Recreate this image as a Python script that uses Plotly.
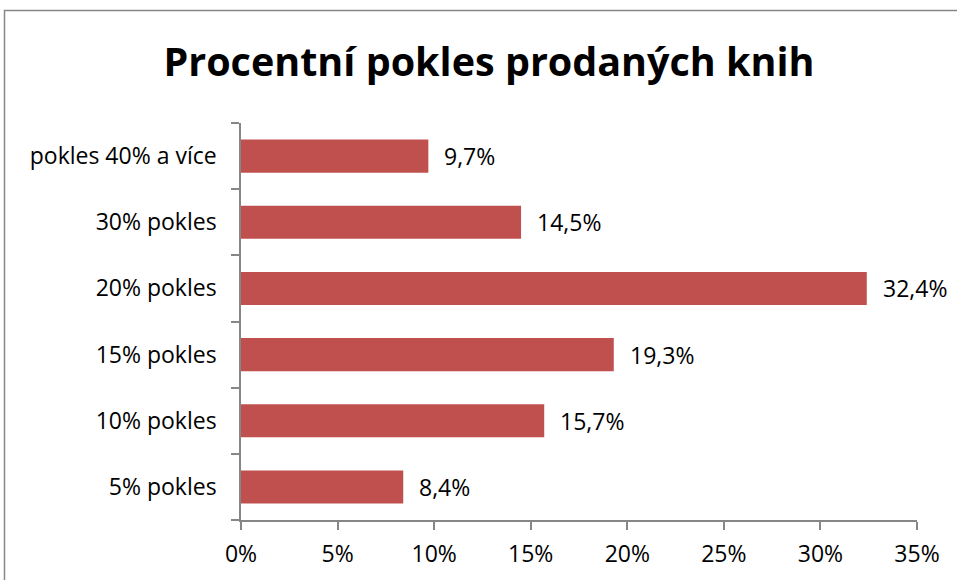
import plotly.graph_objects as go

categories = ["5% pokles", "10% pokles", "15% pokles", "20% pokles", "30% pokles", "pokles 40% a více"]
values = [8.4, 15.7, 19.3, 32.4, 14.5, 9.7]
x_ticks = [0, 5, 10, 15, 20, 25, 30, 35]
x_tick_labels = [f"{t}%" for t in x_ticks]

FONT = "'Open Sans', Lato, sans-serif"
AXIS_COLOR = "#868686"
BAR_COLOR = "#C0504D"
LABEL_SIZE = 23

W, H = 957, 580
ml, mr, mt, mb = 241, 40, 123, 60
pw, ph = W - ml - mr, H - mt - mb

fig = go.Figure()
fig.add_trace(go.Bar(
    y=categories, x=values, orientation="h",
    marker=dict(color=BAR_COLOR, line=dict(width=0)),
    hoverinfo="skip",
))

for c, v in zip(categories, values):
    fig.add_annotation(
        x=v, y=c, xref="x", yref="y",
        text=f"{v:.1f}%".replace(".", ","),
        showarrow=False, xanchor="left", yanchor="middle",
        xshift=14, font=dict(family=FONT, size=LABEL_SIZE, color="#000000"),
    )

def px_to_paper_x(px):
    return (px - ml) / pw

def px_to_paper_y(py):
    return (H - mb - py) / ph

fig.add_shape(
    type="rect", xref="paper", yref="paper",
    x0=px_to_paper_x(4.5), x1=px_to_paper_x(970),
    y0=px_to_paper_y(600), y1=px_to_paper_y(10.5),
    line=dict(color="#878787", width=1.5), fillcolor="rgba(0,0,0,0)",
    layer="below",
)

fig.update_layout(
    width=W, height=H,
    margin=dict(l=ml, r=mr, t=mt, b=mb),
    paper_bgcolor="white", plot_bgcolor="white",
    bargap=0.5,
    showlegend=False,
    separators=", ",
    title=dict(
        text="<b>Procentní pokles prodaných knih</b>",
        x=489 / W, xanchor="center", xref="container",
        y=1 - 62 / H, yanchor="middle", yref="container",
        font=dict(family=FONT, size=39.5, color="#000000"),
    ),
    font=dict(family=FONT, size=LABEL_SIZE, color="#000000"),
    xaxis=dict(
        range=[0, 35], tickvals=x_ticks, ticktext=x_tick_labels,
        showgrid=False, zeroline=False,
        showline=True, linecolor=AXIS_COLOR, linewidth=1.5,
        ticks="outside", ticklen=8, tickcolor=AXIS_COLOR, tickwidth=1.5,
        ticklabelstandoff=5,
        tickfont=dict(family=FONT, size=LABEL_SIZE, color="#000000"),
        fixedrange=True,
    ),
    yaxis=dict(
        type="category", categoryorder="array", categoryarray=categories,
        showgrid=False, zeroline=False,
        showline=True, linecolor=AXIS_COLOR, linewidth=1.5,
        ticks="outside", ticklen=8, tickcolor=AXIS_COLOR, tickwidth=1.5,
        tickson="boundaries",
        ticklabelstandoff=18,
        tickfont=dict(family=FONT, size=LABEL_SIZE, color="#000000"),
        fixedrange=True,
    ),
)

fig.write_html(
    "out.html",
    config={"displayModeBar": False},
    post_script="document.body.style.margin='0';document.body.style.overflow='hidden';",
)
